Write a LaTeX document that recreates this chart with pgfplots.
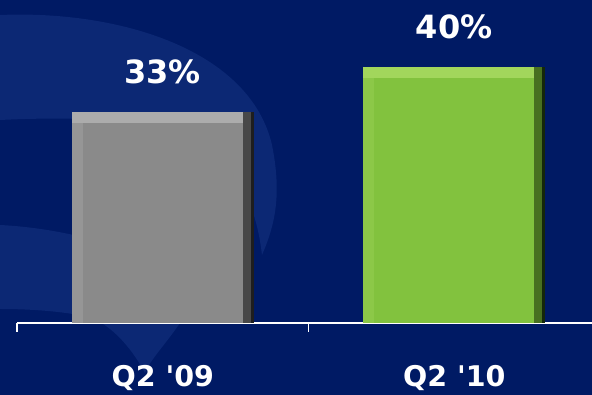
\documentclass[border=0pt]{standalone}
\usepackage{pgfplots}
\pgfplotsset{compat=1.18}
\usepackage{fontspec}
\setmainfont{DejaVu Sans}
\definecolor{bg}{RGB}{0,26,100}
\definecolor{swoosh}{RGB}{12,40,116}
\definecolor{gface}{RGB}{138,138,138}
\definecolor{gtop}{RGB}{172,172,172}
\definecolor{gleft}{RGB}{150,150,150}
\definecolor{gright}{RGB}{72,72,72}
\definecolor{gedge}{RGB}{30,30,30}
\definecolor{nface}{RGB}{130,194,62}
\definecolor{ntop}{RGB}{162,214,92}
\definecolor{nleft}{RGB}{140,200,72}
\definecolor{nright}{RGB}{72,112,32}
\definecolor{nedge}{RGB}{20,40,10}
\begin{document}
\begin{tikzpicture}
\fill[bg] (0pt,0pt) rectangle (592pt,395pt);
\begin{scope}
\clip (0pt,0pt) rectangle (592pt,395pt);
\fill[swoosh] (0pt,380pt) .. controls (120pt,385pt) and (250pt,345pt) .. (272pt,250pt)
  .. controls (282pt,200pt) and (275pt,170pt) .. (262pt,140pt)
  .. controls (255pt,200pt) and (230pt,250pt) .. (150pt,270pt)
  .. controls (100pt,278pt) and (40pt,277pt) .. (0pt,275pt) -- cycle;
\fill[swoosh] (0pt,170pt) .. controls (40pt,168pt) and (80pt,160pt) .. (110pt,150pt)
  -- (180pt,72pt) .. controls (165pt,50pt) and (150pt,35pt) .. (145pt,22pt)
  .. controls (130pt,50pt) and (110pt,70pt) .. (90pt,78pt)
  .. controls (60pt,84pt) and (30pt,86pt) .. (0pt,86pt) -- cycle;
\end{scope}
\useasboundingbox (0pt,0pt) rectangle (592pt,395pt);
\begin{axis}[
  at={(17pt,72pt)}, anchor=south west,
  scale only axis, width=575pt, height=323pt,
  xmin=-0.5, xmax=1.4726, ymin=0, ymax=50.47,
  clip=false,
  hide y axis,
  axis x line*=bottom,
  x axis line style={-, white, line width=1.5pt},
  xtick={0,1},
  xticklabels={Q2 \textquotesingle09, Q2 \textquotesingle10},
  major tick length=0pt,
  tick align=outside,
  extra x ticks={-0.5,0.5},
  extra x tick labels={},
  extra x tick style={major tick length=9pt, tick style={white, line width=1.5pt}},
  /pgf/number format/assume math mode=true,
  xticklabel style={anchor=base, yshift=-64pt, text=white, font=\fontsize{28.5}{32}\selectfont\bfseries},
  every node near coord/.append style={anchor=base, yshift=28pt, text=white, font=\fontsize{32}{36}\selectfont\bfseries},
]
% Q2 '09 (gray)
\addplot[ybar, bar width=182pt, bar shift=0pt, fill=gtop, draw=none,
  nodes near coords={\pgfmathprintnumber{\pgfplotspointmeta}\%}] coordinates {(0,33)};
\addplot[ybar, bar width=11pt, bar shift=85.5pt, fill=gright, draw=none] coordinates {(0,33)};
\addplot[ybar, bar width=11pt, bar shift=-85.5pt, fill=gleft, draw=none] coordinates {(0,31.28)};
\addplot[ybar, bar width=160pt, bar shift=0pt, fill=gface, draw=none] coordinates {(0,31.28)};
\addplot[ybar, bar width=3pt, bar shift=89.5pt, fill=gedge, draw=none] coordinates {(0,33)};
% Q2 '10 (green)
\addplot[ybar, bar width=182pt, bar shift=0pt, fill=ntop, draw=none,
  nodes near coords={\pgfmathprintnumber{\pgfplotspointmeta}\%}] coordinates {(1,40)};
\addplot[ybar, bar width=11pt, bar shift=85.5pt, fill=nright, draw=none] coordinates {(1,40)};
\addplot[ybar, bar width=11pt, bar shift=-85.5pt, fill=nleft, draw=none] coordinates {(1,38.28)};
\addplot[ybar, bar width=160pt, bar shift=0pt, fill=nface, draw=none] coordinates {(1,38.28)};
\addplot[ybar, bar width=3pt, bar shift=89.5pt, fill=nedge, draw=none] coordinates {(1,40)};
\end{axis}
\end{tikzpicture}
\end{document}
